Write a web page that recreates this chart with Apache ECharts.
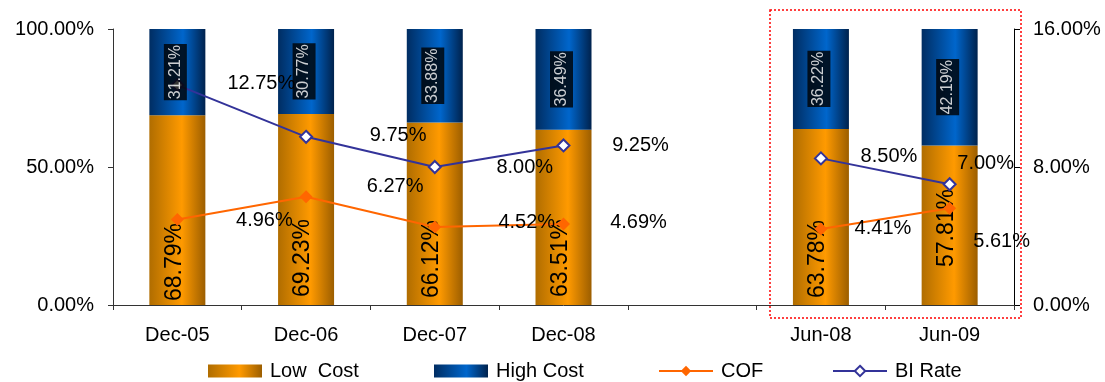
<!DOCTYPE html>
<html><head><meta charset="utf-8">
<script src="https://cdn.jsdelivr.net/npm/echarts@6/dist/echarts.min.js"></script>
<style>html,body{margin:0;padding:0;background:#fff}#c{width:1105px;height:382px}</style>
</head><body><div id="c"></div>
<script>
const categories = ['Dec-05', 'Dec-06', 'Dec-07', 'Dec-08', '', 'Jun-08', 'Jun-09'];
const lowCost  = [68.79, 69.23, 66.12, 63.51, null, 63.78, 57.81];
const highCost = [31.21, 30.77, 33.88, 36.49, null, 36.22, 42.19];
const cof      = [4.96, 6.27, 4.52, 4.69, null, 4.41, 5.61];
const biRate   = [12.75, 9.75, 8.00, 9.25, null, 8.50, 7.00];
const leftTicks = [0, 50, 100];
const rightTicks = [0, 8, 16];

const FONT = 'Liberation Sans, Arial, sans-serif';
const pct = v => v.toFixed(2) + '%';

// label placement (styling only)
const lowDist = [4, 8, 7, 8, 0, 7, 38];
const biOff  = [[84,-2],[92,-1],[90,0],[77,0],null,[68,-2],[36,-21]];
const cofOff = [[87,1],[89,-10],[92,-5],[75,-2],null,[62,0],[52,33]];

const lowGrad = new echarts.graphic.LinearGradient(0,0,1,0,[
  {offset:0,color:'#b06d00'},{offset:0.58,color:'#ff9a00'},{offset:1,color:'#9c5e00'}]);
const highGrad = new echarts.graphic.LinearGradient(0,0,1,0,[
  {offset:0,color:'#002d62'},{offset:0.6,color:'#0066cc'},{offset:1,color:'#00224d'}]);

// label anchor points for the High Cost segments (middle of each segment)
const highMid = categories.map((c, i) =>
  highCost[i] == null ? null : [i, lowCost[i] + highCost[i] / 2, highCost[i]]);

const chart = echarts.init(document.getElementById('c'), null, {renderer:'canvas'});
const legendBase = {top: 361, padding: 0, itemWidth: 54, itemHeight: 13, itemGap: 70,
  textStyle: {fontFamily: FONT, fontSize: 20, lineHeight: 20, color: '#000', padding: [0,0,0,3]}};
chart.setOption({
  animation: false,
  textStyle: {fontFamily: FONT},
  grid: {left: 113, right: 91, top: 29, bottom: 77},
  legend: [
    Object.assign({left: 208, icon: 'rect', data: ['Low  Cost']}, legendBase),
    Object.assign({left: 434, icon: 'rect', data: ['High Cost']}, legendBase),
    Object.assign({left: 658, data: ['COF']}, legendBase),
    Object.assign({left: 832, data: ['BI Rate']}, legendBase)
  ],
  xAxis: {
    type: 'category', data: categories,
    axisLine: {lineStyle: {color: '#333', width: 1}},
    axisTick: {show: true, length: 5, lineStyle: {color: '#333'}},
    axisLabel: {fontSize: 20, color: '#000', fontFamily: FONT, margin: 20, interval: 0},
    splitLine: {show: false}
  },
  yAxis: [
    {type: 'value', min: leftTicks[0], max: leftTicks[2], interval: leftTicks[1] - leftTicks[0],
     axisLine: {show: true, lineStyle: {color: '#333'}},
     axisTick: {show: true, length: 5, lineStyle: {color: '#333'}},
     axisLabel: {fontSize: 20, color: '#000', fontFamily: FONT, margin: 19, formatter: v => pct(v)},
     splitLine: {show: false}},
    {type: 'value', min: rightTicks[0], max: rightTicks[2], interval: rightTicks[1] - rightTicks[0],
     position: 'right',
     axisLine: {show: true, lineStyle: {color: '#000'}},
     axisTick: {show: true, length: 6, lineStyle: {color: '#000'}},
     axisLabel: {fontSize: 20, color: '#000', fontFamily: FONT, margin: 19, formatter: v => pct(v)},
     splitLine: {show: false}}
  ],
  series: [
    {name: 'Low  Cost', type: 'bar', stack: 'a', barWidth: 56, yAxisIndex: 0, z: 2,
     itemStyle: {color: lowGrad},
     label: {show: true, position: 'insideBottom', rotate: 90, align: 'left', verticalAlign: 'middle',
       fontSize: 23, color: '#000', fontFamily: FONT, offset: [0, -3], formatter: p => pct(p.value)},
     data: lowCost.map((v, i) => v == null ? null : {value: v, label: {distance: lowDist[i]}})},
    {name: 'High Cost', type: 'bar', stack: 'a', barWidth: 56, yAxisIndex: 0, z: 2,
     itemStyle: {color: highGrad},
     data: highCost},
    {name: 'COF', type: 'line', yAxisIndex: 1, z: 3,
     symbol: 'diamond', symbolSize: 13,
     lineStyle: {color: '#ff6600', width: 2}, itemStyle: {color: '#ff6600'},
     connectNulls: false,
     label: {show: true, position: 'inside', fontSize: 20, color: '#000', fontFamily: FONT,
       formatter: p => pct(p.value)},
     data: cof.map((v, i) => v == null ? null : {value: v, label: {offset: cofOff[i]}})},
    {name: 'BI Rate', type: 'line', yAxisIndex: 1, z: 3,
     symbol: 'emptyDiamond', symbolSize: 12,
     lineStyle: {color: '#333399', width: 2}, itemStyle: {color: '#333399', borderWidth: 2},
     connectNulls: false,
     label: {show: true, position: 'inside', fontSize: 20, color: '#000', fontFamily: FONT,
       formatter: p => pct(p.value)},
     data: biRate.map((v, i) => v == null ? null : {value: v, label: {offset: biOff[i]}})},
    {name: 'High Cost labels', type: 'scatter', yAxisIndex: 0, z: 4, symbolSize: 0,
     silent: true, legendHoverLink: false,
     label: {show: true, position: 'inside', rotate: 90, align: 'center', verticalAlign: 'middle',
       fontSize: 16, lineHeight: 19, color: '#fff', backgroundColor: '#000', padding: [2, 1],
       fontFamily: FONT, offset: [0, -2], formatter: p => pct(p.value[2])},
     data: highMid.filter(d => d != null)}
  ],
  graphic: [{type: 'rect', shape: {x: 770, y: 10, width: 251, height: 308}, z: 100,
    style: {fill: 'none', stroke: '#ff0000', lineWidth: 1.5, lineDash: [2, 2]}}]
});
</script></body></html>
